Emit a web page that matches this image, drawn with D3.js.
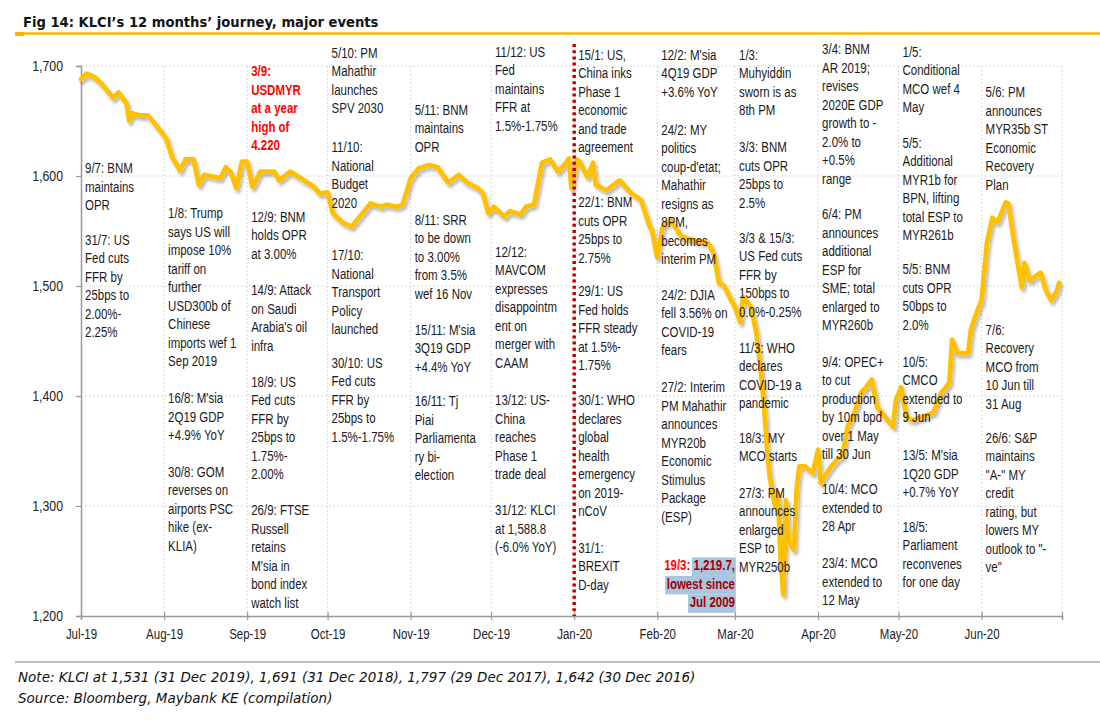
<!DOCTYPE html>
<html>
<head>
<meta charset="utf-8">
<script src="https://cdn.jsdelivr.net/npm/d3@7"></script>
<style>
  body { margin: 0; background: #fff; }
  svg { display: block; }
  .ann { font-family: "Liberation Sans", Arial, sans-serif; font-size: 14px; fill: #1a1a1a; }
  .tick text { font-family: "Liberation Sans", Arial, sans-serif; fill: #222; }
</style>
</head>
<body>
<svg id="chart" width="1100" height="727"></svg>
<script>
// KLCI daily close
const dates = [
  '2019-07-01','2019-07-03','2019-07-06','2019-07-09','2019-07-13','2019-07-15','2019-07-18','2019-07-19','2019-07-20','2019-07-23',
  '2019-07-26','2019-07-28','2019-07-31','2019-08-02','2019-08-04','2019-08-07','2019-08-09','2019-08-12','2019-08-14','2019-08-16',
  '2019-08-20','2019-08-22','2019-08-24','2019-08-26','2019-08-28','2019-08-30','2019-09-01','2019-09-03','2019-09-06','2019-09-11',
  '2019-09-13','2019-09-17','2019-09-21','2019-09-26','2019-09-28','2019-10-01','2019-10-03','2019-10-07','2019-10-10','2019-10-12',
  '2019-10-17','2019-10-21','2019-10-23','2019-10-27','2019-10-29','2019-11-01','2019-11-04','2019-11-08','2019-11-11','2019-11-15',
  '2019-11-19','2019-11-22','2019-11-26','2019-11-28','2019-11-30','2019-12-02','2019-12-06','2019-12-08','2019-12-12','2019-12-14',
  '2019-12-17','2019-12-20','2019-12-23','2019-12-26','2019-12-29','2019-12-30','2019-12-31','2020-01-02','2020-01-03','2020-01-06',
  '2020-01-08','2020-01-09','2020-01-13','2020-01-18','2020-01-22','2020-01-26','2020-01-29','2020-01-30','2020-02-01','2020-02-03',
  '2020-02-06','2020-02-10','2020-02-14','2020-02-20','2020-02-22','2020-02-24','2020-02-26','2020-02-28','2020-03-01','2020-03-03',
  '2020-03-04','2020-03-07','2020-03-09','2020-03-11','2020-03-12','2020-03-13','2020-03-14','2020-03-16','2020-03-17','2020-03-18',
  '2020-03-19','2020-03-20','2020-03-21','2020-03-23','2020-03-24','2020-03-25','2020-03-27','2020-03-30','2020-04-01','2020-04-02',
  '2020-04-05','2020-04-08','2020-04-10','2020-04-12','2020-04-14','2020-04-17','2020-04-19','2020-04-21','2020-04-23','2020-04-26',
  '2020-04-29','2020-04-30','2020-05-02','2020-05-04','2020-05-06','2020-05-10','2020-05-14','2020-05-17','2020-05-20','2020-05-21',
  '2020-05-23','2020-05-27','2020-05-28','2020-05-30','2020-06-01','2020-06-03','2020-06-05','2020-06-07','2020-06-10','2020-06-11',
  '2020-06-13','2020-06-16','2020-06-17','2020-06-19','2020-06-23','2020-06-25','2020-06-27','2020-06-29','2020-06-30'
];
const klci = [
  1688,1693,1690,1683,1671,1676,1666,1650,1657,1655,
  1655,1649,1640,1633,1617,1605,1615,1615,1592,1601,
  1599,1598,1608,1603,1589,1613,1613,1590,1604,1604,
  1596,1604,1598,1590,1584,1585,1566,1557,1554,1560,
  1575,1572,1574,1572,1574,1598,1607,1610,1608,1594,
  1601,1594,1589,1584,1566,1572,1563,1568,1565,1572,
  1574,1612,1615,1604,1612,1616,1589,1615,1613,1599,
  1612,1592,1587,1596,1585,1578,1555,1551,1526,1554,
  1560,1545,1542,1539,1530,1503,1500,1490,1481,1467,
  1490,1481,1457,1415,1385,1351,1326,1299,1312,1254,
  1219.7,1305,1269,1260,1315,1336,1336,1330,1351,1321,
  1333,1342,1345,1372,1381,1403,1408,1415,1390,1381,
  1372,1396,1408,1381,1378,1381,1385,1403,1412,1451,
  1439,1439,1460,1475,1487,1539,1562,1558,1576,1575,
  1542,1499,1521,1505,1512,1496,1487,1495,1503
];

const yTicks = [1200, 1300, 1400, 1500, 1600, 1700];
const monthTicks = ['2019-07-01','2019-08-01','2019-09-01','2019-10-01','2019-11-01','2019-12-01',
  '2020-01-01','2020-02-01','2020-03-01','2020-04-01','2020-05-01','2020-06-01','2020-07-01'];
const yearBreak = '2020-01-01';

// event notes: month column + index level where the first line sits
const events = [
  { month: '2019-07-01', at: 1607, lines: ['9/7: BNM', 'maintains', 'OPR'] },
  { month: '2019-07-01', at: 1542, lines: ['31/7: US', 'Fed cuts', 'FFR by', '25bps to', '2.00%-', '2.25%'] },
  { month: '2019-08-01', at: 1566, lines: ['1/8: Trump', 'says US will', 'impose 10%', 'tariff on', 'further', 'USD300b of', 'Chinese', 'imports wef 1', 'Sep 2019'] },
  { month: '2019-08-01', at: 1398, lines: ["16/8: M'sia", '2Q19 GDP', '+4.9% YoY'] },
  { month: '2019-08-01', at: 1331, lines: ['30/8: GOM', 'reverses on', 'airports PSC', 'hike (ex-', 'KLIA)'] },
  { month: '2019-09-01', at: 1695, red: true, lines: ['3/9:', 'USDMYR', 'at a year', 'high of', '4.220'] },
  { month: '2019-09-01', at: 1563, lines: ['12/9: BNM', 'holds OPR', 'at 3.00%'] },
  { month: '2019-09-01', at: 1496, lines: ['14/9: Attack', 'on Saudi', "Arabia's oil", 'infra'] },
  { month: '2019-09-01', at: 1413, lines: ['18/9: US', 'Fed cuts', 'FFR by', '25bps to', '1.75%-', '2.00%'] },
  { month: '2019-09-01', at: 1296, lines: ['26/9: FTSE', 'Russell', 'retains', "M'sia in", 'bond index', 'watch list'] },
  { month: '2019-10-01', at: 1712, lines: ['5/10: PM', 'Mahathir', 'launches', 'SPV 2030'] },
  { month: '2019-10-01', at: 1626, lines: ['11/10:', 'National', 'Budget', '2020'] },
  { month: '2019-10-01', at: 1528, lines: ['17/10:', 'National', 'Transport', 'Policy', 'launched'] },
  { month: '2019-10-01', at: 1430, lines: ['30/10: US', 'Fed cuts', 'FFR by', '25bps to', '1.5%-1.75%'] },
  { month: '2019-11-01', at: 1660, lines: ['5/11: BNM', 'maintains', 'OPR'] },
  { month: '2019-11-01', at: 1560, lines: ['8/11: SRR', 'to be down', 'to 3.00%', 'from 3.5%', 'wef 16 Nov'] },
  { month: '2019-11-01', at: 1460, lines: ["15/11: M'sia", '3Q19 GDP', '+4.4% YoY'] },
  { month: '2019-11-01', at: 1395, lines: ['16/11: Tj', 'Piai', 'Parliamenta', 'ry bi-', 'election'] },
  { month: '2019-12-01', at: 1713, lines: ['11/12: US', 'Fed', 'maintains', 'FFR at', '1.5%-1.75%'] },
  { month: '2019-12-01', at: 1531, lines: ['12/12:', 'MAVCOM', 'expresses', 'disappointm', 'ent on', 'merger with', 'CAAM'] },
  { month: '2019-12-01', at: 1396, lines: ['13/12: US-', 'China', 'reaches', 'Phase 1', 'trade deal'] },
  { month: '2019-12-01', at: 1296, lines: ['31/12: KLCI', 'at 1,588.8', '(-6.0% YoY)'] },
  { month: '2020-01-01', at: 1710, lines: ['15/1: US,', 'China inks', 'Phase 1', 'economic', 'and trade', 'agreement'] },
  { month: '2020-01-01', at: 1576, lines: ['22/1: BNM', 'cuts OPR', '25bps to', '2.75%'] },
  { month: '2020-01-01', at: 1495, lines: ['29/1: US', 'Fed holds', 'FFR steady', 'at 1.5%-', '1.75%'] },
  { month: '2020-01-01', at: 1396, lines: ['30/1: WHO', 'declares', 'global', 'health', 'emergency', 'on 2019-', 'nCoV'] },
  { month: '2020-01-01', at: 1262, lines: ['31/1:', 'BREXIT', 'D-day'] },
  { month: '2020-02-01', at: 1710, lines: ["12/2: M'sia", '4Q19 GDP', '+3.6% YoY'] },
  { month: '2020-02-01', at: 1642, lines: ['24/2: MY', 'politics', "coup-d'etat;", 'Mahathir', 'resigns as', '8PM,', 'becomes', 'interim PM'] },
  { month: '2020-02-01', at: 1492, lines: ['24/2: DJIA', 'fell 3.56% on', 'COVID-19', 'fears'] },
  { month: '2020-02-01', at: 1408, lines: ['27/2: Interim', 'PM Mahathir', 'announces', 'MYR20b', 'Economic', 'Stimulus', 'Package', '(ESP)'] },
  { month: '2020-03-01', at: 1710, lines: ['1/3:', 'Muhyiddin', 'sworn is as', '8th PM'] },
  { month: '2020-03-01', at: 1626, lines: ['3/3: BNM', 'cuts OPR', '25bps to', '2.5%'] },
  { month: '2020-03-01', at: 1544, lines: ['3/3 & 15/3:', 'US Fed cuts', 'FFR by', '150bps to', '0.0%-0.25%'] },
  { month: '2020-03-01', at: 1444, lines: ['11/3: WHO', 'declares', 'COVID-19 a', 'pandemic'] },
  { month: '2020-03-01', at: 1362, lines: ['18/3: MY', 'MCO starts'] },
  { month: '2020-03-01', at: 1312, lines: ['27/3: PM', 'announces', 'enlarged', 'ESP to', 'MYR250b'] },
  { month: '2020-04-01', at: 1715, lines: ['3/4: BNM', 'AR 2019;', 'revises', '2020E GDP', 'growth to -', '2.0% to', '+0.5%', 'range'] },
  { month: '2020-04-01', at: 1565, lines: ['6/4: PM', 'announces', 'additional', 'ESP for', 'SME; total', 'enlarged to', 'MYR260b'] },
  { month: '2020-04-01', at: 1431, lines: ['9/4: OPEC+', 'to cut', 'production', 'by 10m bpd', 'over 1 May', 'till 30 Jun'] },
  { month: '2020-04-01', at: 1315, lines: ['10/4: MCO', 'extended to', '28 Apr'] },
  { month: '2020-04-01', at: 1248, lines: ['23/4: MCO', 'extended to', '12 May'] },
  { month: '2020-05-01', at: 1713, lines: ['1/5:', 'Conditional', 'MCO wef 4', 'May'] },
  { month: '2020-05-01', at: 1630, lines: ['5/5:', 'Additional', 'MYR1b for', 'BPN, lifting', 'total ESP to', 'MYR261b'] },
  { month: '2020-05-01', at: 1515, lines: ['5/5: BNM', 'cuts OPR', '50bps to', '2.0%'] },
  { month: '2020-05-01', at: 1431, lines: ['10/5:', 'CMCO', 'extended to', '9 Jun'] },
  { month: '2020-05-01', at: 1346, lines: ["13/5: M'sia", '1Q20 GDP', '+0.7% YoY'] },
  { month: '2020-05-01', at: 1281, lines: ['18/5:', 'Parliament', 'reconvenes', 'for one day'] },
  { month: '2020-06-01', at: 1676, lines: ['5/6: PM', 'announces', 'MYR35b ST', 'Economic', 'Recovery', 'Plan'] },
  { month: '2020-06-01', at: 1460, lines: ['7/6:', 'Recovery', 'MCO from', '10 Jun till', '31 Aug'] },
  { month: '2020-06-01', at: 1362, lines: ['26/6: S&P', 'maintains', '"A-" MY', 'credit', 'rating, but', 'lowers MY', 'outlook to "-', 've"'] }
];

// the trough call-out, right aligned against the March column
const lowDate = '2020-03-19';
const lowLabelAt = 1246;
const lowLines = ['lowest since', 'Jul 2009'];

const W = 1100, H = 727;
const margin = { top: 66, right: 38, bottom: 111, left: 81 };
const narrow = 0.82; // Arial Narrow look: squeeze Liberation Sans sideways
const parse = d3.timeParse('%Y-%m-%d');
const series = dates.map((d, i) => ({ date: parse(d), v: klci[i] }));

const svg = d3.select('#chart');

const defs = svg.append('defs');
defs.append('filter').attr('id', 'shadow')
  .attr('x', '-5%').attr('y', '-5%').attr('width', '110%').attr('height', '115%')
  .append('feDropShadow')
  .attr('dx', 2).attr('dy', 3).attr('stdDeviation', 1.6)
  .attr('flood-color', '#000').attr('flood-opacity', 0.28);

const x = d3.scaleTime()
  .domain([parse(monthTicks[0]), parse(monthTicks[monthTicks.length - 1])])
  .range([margin.left, W - margin.right]);
const y = d3.scaleLinear().domain([1200, 1700]).range([H - margin.bottom, margin.top]);

// title + rule
svg.append('text')
  .attr('x', 23).attr('y', 27)
  .attr('font-family', '"DejaVu Sans Condensed", "DejaVu Sans", sans-serif')
  .attr('font-weight', 'bold').attr('font-size', 14.6).attr('fill', '#111')
  .text('Fig 14: KLCI\u2019s 12 months\u2019 journey, major events');
svg.append('line').attr('x1', 15).attr('x2', W).attr('y1', 33.5).attr('y2', 33.5)
  .attr('stroke', '#F5B400').attr('stroke-width', 2.5);
svg.append('line').attr('x1', 15).attr('x2', 24).attr('y1', 34).attr('y2', 34)
  .attr('stroke', '#F5B400').attr('stroke-width', 4);

// grid
const grid = svg.append('g');
grid.selectAll('.hg').data(yTicks.slice(1)).enter().append('line')
  .attr('x1', margin.left).attr('x2', W - margin.right)
  .attr('y1', d => y(d)).attr('y2', d => y(d))
  .attr('stroke', '#d9d9d9').attr('stroke-dasharray', '2,2');
grid.selectAll('.vg').data(monthTicks.slice(1)).enter().append('line')
  .attr('x1', d => x(parse(d))).attr('x2', d => x(parse(d)))
  .attr('y1', y(1700)).attr('y2', y(1200))
  .attr('stroke', '#d9d9d9').attr('stroke-dasharray', '2,2');

// axes
const fmtMonth = d3.timeFormat('%b-%y');
const xAxis = svg.append('g')
  .attr('transform', `translate(0,${y(1200)})`)
  .call(d3.axisBottom(x)
    .tickValues(monthTicks.map(parse))
    .tickSize(4).tickPadding(9)
    .tickFormat((d, i) => i === monthTicks.length - 1 ? '' : fmtMonth(d)));
xAxis.select('.domain').attr('stroke', '#999').attr('stroke-width', 1.5);
xAxis.selectAll('.tick line').attr('y1', -4).attr('stroke', '#999').attr('stroke-width', 1.2);
xAxis.selectAll('.tick text').attr('font-size', 14).attr('transform', `scale(${narrow},1)`);

const yAxis = svg.append('g')
  .attr('transform', `translate(${margin.left},0)`)
  .call(d3.axisLeft(y).tickValues(yTicks).tickSize(5).tickPadding(13).tickFormat(d3.format(',')));
yAxis.select('.domain').attr('stroke', '#999').attr('stroke-width', 1.5);
yAxis.selectAll('.tick line').attr('stroke', '#999').attr('stroke-width', 1.2);
yAxis.selectAll('.tick text').attr('font-size', 15)
  .attr('x', -18 / narrow).attr('transform', `scale(${narrow},1)`);

// index line
const line = d3.line().x(d => x(d.date)).y(d => y(d.v));
svg.append('path').datum(series)
  .attr('fill', 'none').attr('stroke', '#FFC000').attr('stroke-width', 4.8)
  .attr('stroke-linejoin', 'round').attr('stroke-linecap', 'round')
  .attr('filter', 'url(#shadow)')
  .attr('d', line);

// year divider
svg.append('line')
  .attr('x1', x(parse(yearBreak))).attr('x2', x(parse(yearBreak)))
  .attr('y1', 44).attr('y2', y(1200))
  .attr('stroke', '#C00000').attr('stroke-width', 3.5).attr('stroke-dasharray', '3,3.2');

// event notes
const lh = 18.5;
const notes = svg.append('g').attr('class', 'ann');
events.forEach(ev => {
  const g = notes.append('g')
    .attr('transform', `translate(${x(parse(ev.month)) + 4},0) scale(${narrow},1)`);
  const t = g.append('text').attr('x', 0).attr('y', y(ev.at) + 5);
  if (ev.red) t.attr('fill', '#FF0000').attr('font-weight', 'bold');
  ev.lines.forEach((s, i) => {
    t.append('tspan').attr('x', 0).attr('dy', i === 0 ? 0 : lh).text(s);
  });
});

// trough call-out
const low = series.find(d => +d.date === +parse(lowDate));
const rx = x(parse('2020-03-01'));
const lowG = svg.append('g').attr('class', 'ann').attr('font-weight', 'bold')
  .attr('transform', `translate(${rx},0) scale(${narrow},1)`);
const lowVal = d3.format(',.1f')(low.v) + ',';
const t0 = lowG.append('text').attr('x', 0).attr('y', y(lowLabelAt) + 5).attr('text-anchor', 'end');
t0.append('tspan').attr('fill', '#FF0000').text('19/3: ');
t0.append('tspan').attr('fill', '#A00000').text(lowVal);
const rows = [t0];
lowLines.forEach((s, i) => {
  rows.push(lowG.append('text').attr('x', 0).attr('y', y(lowLabelAt) + 5 + (i + 1) * lh)
    .attr('text-anchor', 'end').attr('fill', '#A00000').text(s));
});
rows.forEach((r, i) => {
  const node = r.node();
  const n = node.textContent.length;
  const w = i === 0 ? node.getSubStringLength(n - lowVal.length, lowVal.length) : node.getComputedTextLength();
  lowG.insert('rect', 'text')
    .attr('x', -w - 2).attr('width', w + 3)
    .attr('y', y(lowLabelAt) - 8 + i * lh).attr('height', lh)
    .attr('fill', '#A9C5E0');
});

// footer
svg.append('line').attr('x1', 15).attr('x2', W).attr('y1', 662).attr('y2', 662)
  .attr('stroke', '#bfbfbf').attr('stroke-width', 2);
const foot = svg.append('g')
  .attr('font-family', '"DejaVu Sans", sans-serif')
  .attr('font-style', 'italic').attr('font-size', 13.5).attr('fill', '#111');
foot.append('text').attr('x', 18).attr('y', 682)
  .text('Note: KLCI at 1,531 (31 Dec 2019), 1,691 (31 Dec 2018), 1,797 (29 Dec 2017), 1,642 (30 Dec 2016)');
foot.append('text').attr('x', 18).attr('y', 703)
  .text('Source: Bloomberg, Maybank KE (compilation)');
</script>
</body>
</html>
